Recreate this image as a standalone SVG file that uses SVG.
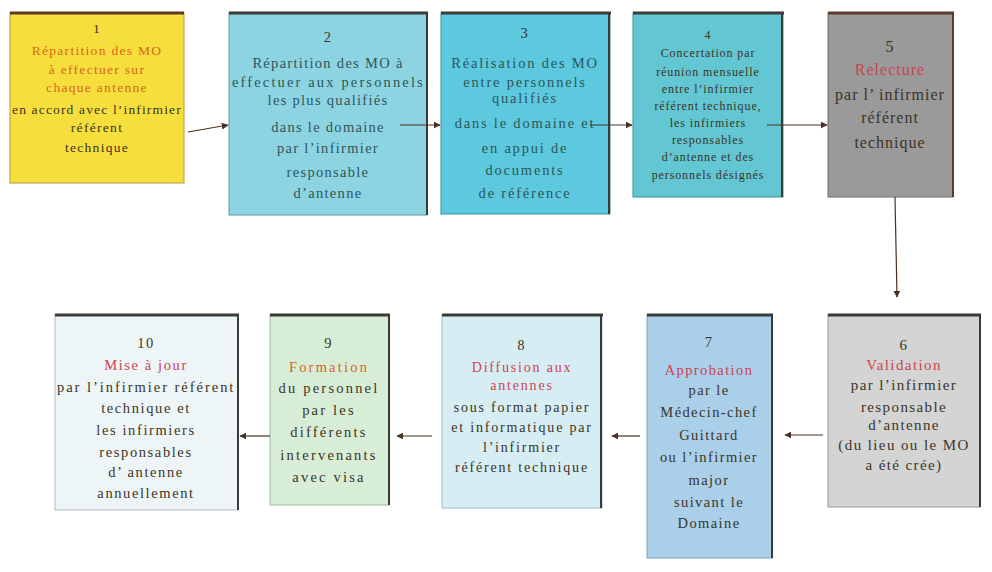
<svg xmlns="http://www.w3.org/2000/svg" width="992" height="572" viewBox="0 0 992 572">
  <defs>
    <marker id="arr" viewBox="0 0 10 10" refX="9" refY="5" markerWidth="7" markerHeight="7" orient="auto" markerUnits="userSpaceOnUse">
      <path d="M0,0 L10,5 L0,10 z" fill="#4a3022"/>
    </marker>
    <style>
      text { font-family: "Liberation Serif", "DejaVu Serif", serif; text-anchor: middle; }
      .dk { fill: #3a3426; }
      .tl { fill: #2e5458; }
      .rd { fill: #cc4450; }
      .or { fill: #d8661e; }
      .top { stroke: #3b3b36; stroke-width: 3; }
      .side { stroke: #3b3b36; stroke-width: 2; }
      .conn { stroke: #4a3022; stroke-width: 1.2; fill: none; marker-end: url(#arr); }
    </style>
  </defs>
  <rect width="992" height="572" fill="#ffffff"/>

  <!-- Top row -->
  <g id="n1">
    <rect x="10" y="13" width="174" height="170" fill="#f6df3c" stroke="#b89a3a" stroke-width="1"/>
    <line x1="10" y1="13" x2="184" y2="13" stroke="#5a3a1c" stroke-width="3"/>
    <g font-size="13.5" letter-spacing="1.3">
      <text x="97" y="33" class="dk">1</text>
      <text x="97" y="55" class="or">Répartition des MO</text>
      <text x="97" y="74" class="or">à effectuer sur</text>
      <text x="97" y="92" class="or">chaque antenne</text>
      <text x="97" y="114" class="dk" textLength="170">en accord avec l’infirmier</text>
      <text x="97" y="132" class="dk">référent</text>
      <text x="97" y="152" class="dk">technique</text>
    </g>
  </g>

  <g id="n2">
    <rect x="229" y="13" width="198" height="202" fill="#8dd4e2" stroke="#5c9aa6" stroke-width="1"/>
    <line class="top" x1="229" y1="13" x2="428" y2="13"/>
    <line class="side" x1="427" y1="13" x2="427" y2="215"/>
    <g font-size="14.5" letter-spacing="1.3" class="tl">
      <text x="328" y="42" class="dk">2</text>
      <text x="328" y="68">Répartition des MO à</text>
      <text x="328" y="87" textLength="192">effectuer aux personnels</text>
      <text x="328" y="105">les plus qualifiés</text>
      <text x="328" y="132">dans le domaine</text>
      <text x="328" y="153">par l’infirmier</text>
      <text x="328" y="177">responsable</text>
      <text x="328" y="198">d’antenne</text>
    </g>
  </g>

  <g id="n3">
    <rect x="441" y="13" width="169" height="201" fill="#5cc9de" stroke="#3a8f9c" stroke-width="1"/>
    <line class="top" x1="441" y1="13" x2="611" y2="13"/>
    <line class="side" x1="609" y1="13" x2="609" y2="214"/>
    <g font-size="14.5" letter-spacing="1.8" class="tl">
      <text x="525" y="38" class="dk">3</text>
      <text x="525" y="68">Réalisation des MO</text>
      <text x="525" y="87">entre personnels</text>
      <text x="525" y="103">qualifiés</text>
      <text x="525" y="128">dans le domaine et</text>
      <text x="525" y="153">en appui de</text>
      <text x="525" y="175">documents</text>
      <text x="525" y="198">de référence</text>
    </g>
  </g>

  <g id="n4">
    <rect x="633" y="13" width="150" height="184" fill="#62c7d2" stroke="#3a8f9c" stroke-width="1"/>
    <line class="top" x1="633" y1="13" x2="784" y2="13"/>
    <line class="side" x1="782" y1="13" x2="782" y2="197"/>
    <g font-size="12" letter-spacing="0.9" class="dk">
      <text x="708" y="39">4</text>
      <text x="708" y="57">Concertation par</text>
      <text x="708" y="76">réunion mensuelle</text>
      <text x="708" y="93">entre l’infirmier</text>
      <text x="708" y="110">référent technique,</text>
      <text x="708" y="127">les infirmiers</text>
      <text x="708" y="144">responsables</text>
      <text x="708" y="161">d’antenne et des</text>
      <text x="708" y="179">personnels désignés</text>
    </g>
  </g>

  <g id="n5">
    <rect x="828" y="13" width="125" height="184" fill="#9b9a9a" stroke="#6e6a66" stroke-width="1"/>
    <line x1="828" y1="13" x2="954" y2="13" stroke="#5a3a28" stroke-width="3"/>
    <line x1="953" y1="13" x2="953" y2="197" stroke="#5a3a28" stroke-width="2"/>
    <g font-size="16" letter-spacing="1">
      <text x="890" y="52" class="dk">5</text>
      <text x="890" y="75" class="rd">Relecture</text>
      <text x="890" y="100" class="dk">par l’ infirmier</text>
      <text x="890" y="123" class="dk">référent</text>
      <text x="890" y="148" class="dk">technique</text>
    </g>
  </g>

  <!-- Bottom row -->
  <g id="n6">
    <rect x="828" y="315" width="152" height="192" fill="#d4d4d4" stroke="#9a9a9a" stroke-width="1"/>
    <line class="top" x1="828" y1="315" x2="981" y2="315"/>
    <line class="side" x1="980" y1="315" x2="980" y2="507"/>
    <g font-size="15" letter-spacing="1.4" class="dk">
      <text x="904" y="350">6</text>
      <text x="904" y="370" class="rd">Validation</text>
      <text x="904" y="390">par l’infirmier</text>
      <text x="904" y="412">responsable</text>
      <text x="904" y="430">d’antenne</text>
      <text x="904" y="450">(du lieu ou le MO</text>
      <text x="904" y="470">a été crée)</text>
    </g>
  </g>

  <g id="n7">
    <rect x="647" y="315" width="125" height="243" fill="#aacfe9" stroke="#7aa0bc" stroke-width="1"/>
    <line class="top" x1="647" y1="315" x2="773" y2="315"/>
    <line class="side" x1="772" y1="315" x2="772" y2="558"/>
    <g font-size="14.5" letter-spacing="1.4" class="dk">
      <text x="709" y="347">7</text>
      <text x="709" y="375" class="rd">Approbation</text>
      <text x="709" y="395">par le</text>
      <text x="709" y="417">Médecin-chef</text>
      <text x="709" y="440">Guittard</text>
      <text x="709" y="462">ou l’infirmier</text>
      <text x="709" y="485">major</text>
      <text x="709" y="507">suivant le</text>
      <text x="709" y="528">Domaine</text>
    </g>
  </g>

  <g id="n8">
    <rect x="442" y="315" width="160" height="193" fill="#d6edf4" stroke="#9cc0cc" stroke-width="1"/>
    <line class="top" x1="442" y1="315" x2="603" y2="315"/>
    <line class="side" x1="601" y1="315" x2="601" y2="508"/>
    <g font-size="14" letter-spacing="1.8" class="dk">
      <text x="522" y="350">8</text>
      <text x="522" y="372" class="rd">Diffusion aux</text>
      <text x="522" y="390" class="rd">antennes</text>
      <text x="522" y="412">sous format papier</text>
      <text x="522" y="432">et informatique par</text>
      <text x="522" y="452">l’infirmier</text>
      <text x="522" y="472">référent technique</text>
    </g>
  </g>

  <g id="n9">
    <rect x="270" y="315" width="119" height="190" fill="#d8edd6" stroke="#a0bca0" stroke-width="1"/>
    <line class="top" x1="270" y1="315" x2="390" y2="315"/>
    <line class="side" x1="389" y1="315" x2="389" y2="505"/>
    <g font-size="14.5" letter-spacing="2.2" class="dk">
      <text x="329" y="348">9</text>
      <text x="329" y="372" class="or">Formation</text>
      <text x="329" y="393">du personnel</text>
      <text x="329" y="415">par les</text>
      <text x="329" y="437">différents</text>
      <text x="329" y="460">intervenants</text>
      <text x="329" y="482">avec visa</text>
    </g>
  </g>

  <g id="n10">
    <rect x="55" y="315" width="183" height="195" fill="#eef5f7" stroke="#b0bcc0" stroke-width="1"/>
    <line class="top" x1="55" y1="315" x2="239" y2="315"/>
    <line class="side" x1="238" y1="315" x2="238" y2="510"/>
    <g font-size="14.5" letter-spacing="1.6" class="dk">
      <text x="146" y="348">10</text>
      <text x="146" y="370" class="rd">Mise à jour</text>
      <text x="146" y="392" textLength="178">par l’infirmier référent</text>
      <text x="146" y="413">technique et</text>
      <text x="146" y="435">les infirmiers</text>
      <text x="146" y="457">responsables</text>
      <text x="146" y="477">d’ antenne</text>
      <text x="146" y="498">annuellement</text>
    </g>
  </g>

  <!-- Connectors -->
  <g id="connectors">
    <path class="conn" d="M188,132 L228,125"/>
    <path class="conn" d="M400,125 L440,125"/>
    <path class="conn" d="M590,125 L632,125"/>
    <path class="conn" d="M767,125 L827,125"/>
    <path class="conn" d="M895,197 L897,297"/>
    <path class="conn" d="M823,435 L785,435"/>
    <path class="conn" d="M640,436 L612,436"/>
    <path class="conn" d="M432,436 L397,436"/>
    <path class="conn" d="M270,436 L240,436"/>
  </g>
</svg>
